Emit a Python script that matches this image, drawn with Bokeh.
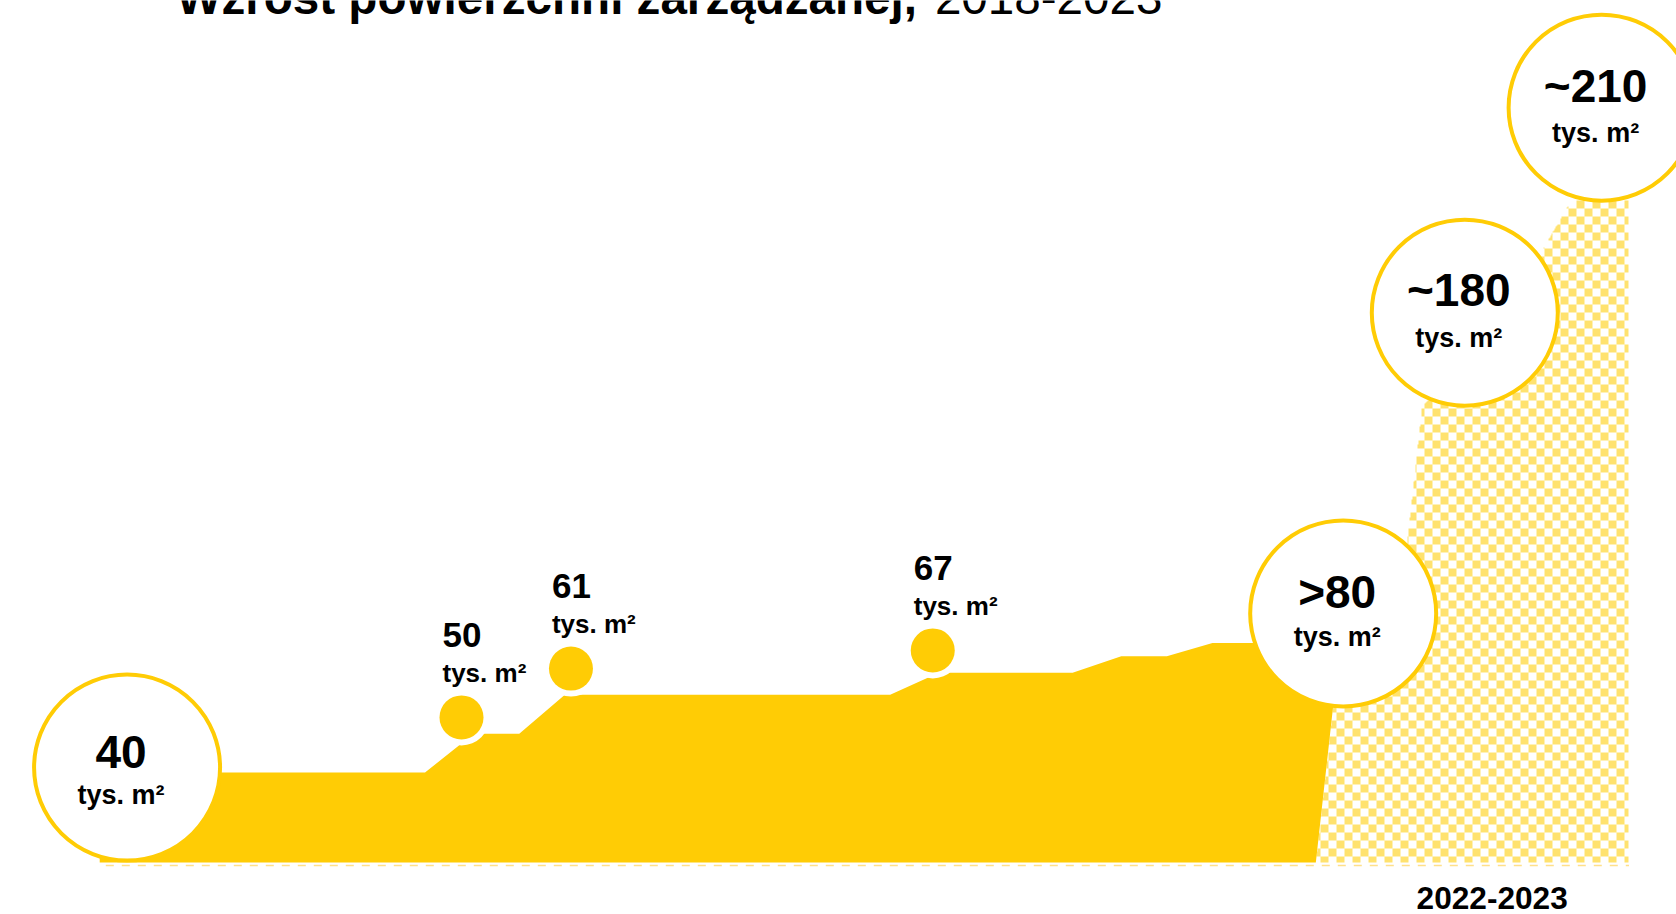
import numpy as np
from bokeh.plotting import figure
from bokeh.models import Range1d, ColumnDataSource
from bokeh.core.properties import value
from bokeh.embed import file_html
from bokeh.resources import INLINE

# ---------------- data ----------------
title_bold = "Wzrost powierzchni zarządzanej,"
title_regular = "2018-2023"
unit_label = "tys. m²"

BASE = 15.69          # bottom of the filled area
DASH = 14.88          # dashed base line

# actual managed area (steps), x in years, y in tys. m² (visual scale)
step_x = [2017.91, 2018.98, 2019.14, 2019.29, 2019.44, 2020.51, 2020.67,
          2021.11, 2021.27, 2021.42, 2021.57, 2021.99, 2021.91]
step_y = [40, 40, 50.5, 50.5, 61, 61, 67, 67, 71.4, 71.4, 75, 75, BASE]

# projected area 2022-2023 (checker fill)
proj_x = [2021.91, 2021.99, 2022.19, 2022.26, 2022.52, 2022.75, 2022.94, 2022.94]
proj_y = [BASE, 75, 86.5, 139, 162, 194.6, 194.6, BASE]

# big bubbles
bubble_labels = ["40", ">80", "~180", "~210"]
bubble_x = [2018.0, 2022.0, 2022.4, 2022.85]
bubble_y = [41.35, 83, 164.3, 219.7]

# small dots
dot_labels = ["50", "61", "67"]
dot_x = [2019.10, 2019.46, 2020.65]
dot_y = [54.9, 68.1, 73.0]

# baseline and period label
base_x = [2017.93, 2022.94]
period_labels = ["2022-2023"]
period_x = [2022.49]

# ---------------- layout ----------------
W, H = 1676, 914
PXY = 304.029            # pixels per year
PXU = 3.7                # pixels per unit
X0 = 2017.61 - 8 / PXY
X1 = X0 + W / PXY
Y1 = 246.5 + 8 / PXU
Y0 = Y1 - H / PXU

def dx(px):
    return px / PXY

def dy(px):            # positive px = upward on screen
    return px / PXU

def tb(size):          # baseline correction for the text renderer
    return dy(0.41 * size)

YELLOW = "#FFCC05"
DASHC = "#FFE08A"
FONT = value("Liberation Sans")

p = figure(width=W, height=H, x_range=Range1d(X0, X1), y_range=Range1d(Y0, Y1),
           output_backend="svg", toolbar_location=None, min_border=0,
           x_axis_location=None, y_axis_location=None)
p.grid.visible = False
p.outline_line_color = None
p.background_fill_color = "white"
p.border_fill_color = "white"

# ---------------- checker fill of the projected area ----------------
cx = (np.array(proj_x) - X0) * PXY
cy = (Y1 - np.array(proj_y)) * PXU
ix0, ix1 = int(np.floor(cx.min())), int(np.ceil(cx.max()))
iy0, iy1 = int(np.floor(cy.min())), int(np.ceil(cy.max()))
w, h = ix1 - ix0, iy1 - iy0
gx, gy = np.meshgrid(np.arange(ix0, ix1) + 0.5, np.arange(iy0, iy1) + 0.5)
inside = np.zeros(gx.shape, dtype=bool)
n = len(cx)
for i in range(n):
    xa, ya = cx[i], cy[i]
    xb, yb = cx[(i + 1) % n], cy[(i + 1) % n]
    if ya == yb:
        continue
    cond = (ya > gy) != (yb > gy)
    xint = xa + (gy - ya) * (xb - xa) / (yb - ya)
    inside ^= cond & (gx < xint)
sq = 8
checker = ((np.floor(gx / sq) + np.floor(gy / sq)) % 2) == 0
img = np.zeros((h, w), dtype=np.uint32)
view = img.view(np.uint8).reshape(h, w, 4)
mask = inside & checker
view[..., 0] = 0xFF
view[..., 1] = 0xE2
view[..., 2] = 0x6E
view[..., 3] = np.where(mask, 255, 0).astype(np.uint8)
img = np.ascontiguousarray(img[::-1])
p.image_rgba(image=[img], x=X0 + ix0 / PXY, y=Y1 - iy1 / PXU,
             dw=w / PXY, dh=h / PXU)

# dashed base line
p.line(base_x, [DASH, DASH], line_color=DASHC, line_width=1.5, line_dash="8 8")

# solid area
p.patch(step_x + [step_x[-1], step_x[0]], step_y + [BASE, BASE],
        fill_color=YELLOW, line_color=None)

# small dots with white halo
dots = ColumnDataSource(dict(x=dot_x, y=dot_y))
p.scatter("x", "y", source=dots, size=56, fill_color="white", line_color=None)
p.scatter("x", "y", source=dots, size=44, fill_color=YELLOW, line_color=None)

# big bubbles
bub = ColumnDataSource(dict(x=bubble_x, y=bubble_y))
p.scatter("x", "y", source=bub, size=186, fill_color="white",
          line_color=YELLOW, line_width=4)

# bubble texts (screen offsets of the baselines from the bubble centre)
NB, UB = 46, 27
num_off = [3, -3, -4, -3]
unit_off = [39, 35, 36, 36]
bub_txt = ColumnDataSource(dict(
    xn=[x - dx(6) for x in bubble_x],
    yn=[y - dy(o) + tb(NB) for y, o in zip(bubble_y, num_off)],
    yu=[y - dy(o) + tb(UB) for y, o in zip(bubble_y, unit_off)],
    label=bubble_labels, unit=[unit_label] * len(bubble_labels)))
p.text("xn", "yn", text="label", source=bub_txt, text_font=FONT,
       text_font_style="bold", text_font_size=f"{NB}px", text_align="center",
       text_baseline="alphabetic", text_color="black")
p.text("xn", "yu", text="unit", source=bub_txt, text_font=FONT,
       text_font_style="bold", text_font_size=f"{UB}px", text_align="center",
       text_baseline="alphabetic", text_color="black")

# dot texts
ND, UD = 35, 26
dot_txt = ColumnDataSource(dict(
    xl=[x - dx(19) for x in dot_x],
    yn=[y + dy(68) + tb(ND) for y in dot_y],
    yu=[y + dy(34) + tb(UD) for y in dot_y],
    label=dot_labels, unit=[unit_label] * len(dot_labels)))
p.text("xl", "yn", text="label", source=dot_txt, text_font=FONT,
       text_font_style="bold", text_font_size=f"{ND}px", text_align="left",
       text_baseline="alphabetic", text_color="black")
p.text("xl", "yu", text="unit", source=dot_txt, text_font=FONT,
       text_font_style="bold", text_font_size=f"{UD}px", text_align="left",
       text_baseline="alphabetic", text_color="black")

# period label
NP = 31.6
p.text(period_x, [Y0 + dy(4) + tb(NP)], text=period_labels, text_font=FONT,
       text_font_style="bold", text_font_size=f"{NP}px", text_align="center",
       text_baseline="alphabetic", text_color="black")

# title (partly cut off at the top, as in the original)
NT = 47.6
ty = Y1 - dy(17) + tb(NT)
p.text([X0 + dx(176)], [ty], text=[title_bold], text_font=FONT,
       text_font_style="bold", text_font_size=f"{NT}px", text_align="left",
       text_baseline="alphabetic", text_color="black")
p.text([X0 + dx(1162)], [ty], text=[title_regular], text_font=FONT,
       text_font_style="normal", text_font_size=f"{NT}px", text_align="right",
       text_baseline="alphabetic", text_color="black")

open("out.html", "w").write(file_html(p, INLINE))
